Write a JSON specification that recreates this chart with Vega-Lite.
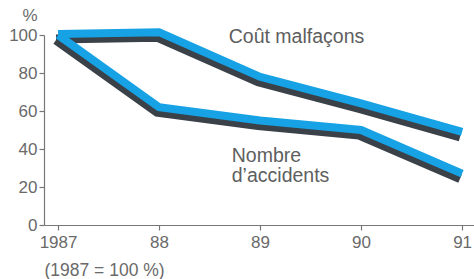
{
  "$schema": "https://vega.github.io/schema/vega-lite/v6.json",
  "width": 430,
  "height": 190,
  "autosize": "none",
  "padding": {"left": 44, "top": 35, "right": 0, "bottom": 54},
  "background": "white",
  "config": {
    "view": {"stroke": null},
    "font": "Liberation Sans",
    "axis": {
      "grid": false,
      "domainColor": "#777777",
      "tickColor": "#777777",
      "labelColor": "#6a6a6a",
      "titleColor": "#6a6a6a",
      "labelFont": "Liberation Sans",
      "titleFont": "Liberation Sans",
      "labelFontSize": 17,
      "titleFontSize": 17,
      "titleFontWeight": "normal",
      "domainWidth": 1.2,
      "tickWidth": 1.2,
      "tickSize": 5
    }
  },
  "datasets": {
    "series": [
      {"year": 1987, "value": 100.5, "series": "cout"},
      {"year": 1988, "value": 101.5, "series": "cout"},
      {"year": 1989, "value": 78, "series": "cout"},
      {"year": 1990, "value": 64, "series": "cout"},
      {"year": 1991, "value": 49, "series": "cout"},
      {"year": 1987, "value": 100, "series": "accidents"},
      {"year": 1988, "value": 62, "series": "accidents"},
      {"year": 1989, "value": 55, "series": "accidents"},
      {"year": 1990, "value": 50, "series": "accidents"},
      {"year": 1991, "value": 27, "series": "accidents"}
    ],
    "labels": [
      {"year": 1988.69, "value": 95.8, "label": "Coût malfaçons"},
      {"year": 1988.72, "value": 33.2, "label": "Nombre"},
      {"year": 1988.72, "value": 22.6, "label": "d’accidents"}
    ]
  },
  "encoding": {
    "x": {
      "field": "year", "type": "quantitative",
      "scale": {"domain": [1986.861, 1991.118], "nice": false, "zero": false},
      "axis": {
        "values": [1987, 1988, 1989, 1990, 1991],
        "labelExpr": "datum.value === 1987 ? '1987' : substring(toString(datum.value), 2)",
        "labelPadding": 4,
        "labelOverlap": false,
        "labelBound": false,
        "title": "(1987 = 100 %)",
        "titleFontSize": 17.5,
        "titleAnchor": "start",
        "titleAlign": "left",
        "titleBaseline": "alphabetic",
        "titleX": 0,
        "titleY": 50
      }
    },
    "y": {
      "field": "value", "type": "quantitative",
      "scale": {"domain": [0, 100], "nice": false},
      "axis": {
        "values": [0, 20, 40, 60, 80, 100],
        "tickCount": 6,
        "labelOverlap": false,
        "labelBound": false,
        "labelPadding": 2,
        "title": "%",
        "titleAngle": 0,
        "titleAlign": "left",
        "titleBaseline": "alphabetic",
        "titleX": -22,
        "titleY": -15
      }
    }
  },
  "layer": [
    {
      "data": {"name": "series"},
      "mark": {"type": "line", "color": "#3a4148", "strokeWidth": 9, "yOffset": 5, "xOffset": -2, "strokeJoin": "miter", "strokeCap": "butt"},
      "encoding": {"detail": {"field": "series", "type": "nominal"}}
    },
    {
      "data": {"name": "series"},
      "mark": {"type": "line", "color": "#16a2e4", "strokeWidth": 8, "strokeJoin": "miter", "strokeCap": "butt"},
      "encoding": {"detail": {"field": "series", "type": "nominal"}}
    },
    {
      "data": {"name": "labels"},
      "mark": {"type": "text", "align": "left", "baseline": "alphabetic", "fontSize": 19.5, "color": "#5e5e5e", "font": "Liberation Sans"},
      "encoding": {"text": {"field": "label"}}
    }
  ]
}
